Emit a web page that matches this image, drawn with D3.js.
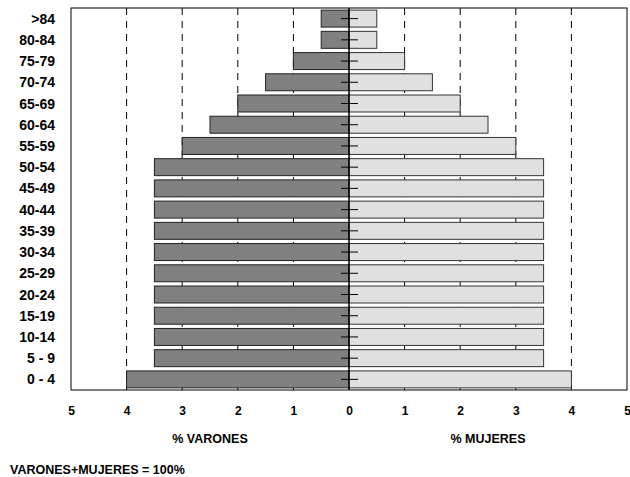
<!DOCTYPE html>
<html>
<head>
<meta charset="utf-8">
<script src="https://cdn.jsdelivr.net/npm/d3@7"></script>
<style>
  body { margin: 0; background: #fff; }
  text { font-family: "Liberation Sans", Arial, sans-serif; font-weight: bold; fill: #000; }
</style>
</head>
<body>
<div id="chart"></div>
<script>
var ageGroups = [">84", "80-84", "75-79", "70-74", "65-69", "60-64", "55-59", "50-54", "45-49",
  "40-44", "35-39", "30-34", "25-29", "20-24", "15-19", "10-14", "5 - 9", "0 - 4"]
var varones = [0.5, 0.5, 1, 1.5, 2, 2.5, 3, 3.5, 3.5, 3.5, 3.5, 3.5, 3.5, 3.5, 3.5, 3.5, 3.5, 4]
var mujeres = [0.5, 0.5, 1, 1.5, 2, 2.5, 3, 3.5, 3.5, 3.5, 3.5, 3.5, 3.5, 3.5, 3.5, 3.5, 3.5, 4]
var xTicks = [-5, -4, -3, -2, -1, 0, 1, 2, 3, 4, 5]

var width = 630, height = 477
var margin = { top: 8, right: 3, bottom: 87, left: 71 }
var innerW = width - margin.left - margin.right,
  innerH = height - margin.top - margin.bottom

var svg = d3.select("#chart").append("svg")
  .attr("width", width)
  .attr("height", height)

var g = svg.append("g")
  .attr("transform", "translate(" + margin.left + "," + margin.top + ")")

var x = d3.scaleLinear().domain([-5, 5]).range([0, innerW])
var y = d3.scaleBand().domain(ageGroups).range([0, innerH]).paddingInner(0.2).paddingOuter(0.1)

// dashed gridlines
g.append("g").selectAll("line")
  .data(xTicks.filter(function (d) { return d !== 0 && Math.abs(d) !== 5 }))
  .enter().append("line")
  .attr("x1", function (d) { return x(d) })
  .attr("x2", function (d) { return x(d) })
  .attr("y1", 0)
  .attr("y2", innerH)
  .style("stroke", "#000")
  .style("stroke-width", 1)
  .style("stroke-dasharray", "7,6")

var data = ageGroups.map(function (a, i) { return { age: a, v: varones[i], m: mujeres[i] } })

// men
g.append("g").selectAll("rect").data(data).enter().append("rect")
  .attr("x", function (d) { return x(-d.v) })
  .attr("y", function (d) { return y(d.age) })
  .attr("width", function (d) { return x(0) - x(-d.v) })
  .attr("height", y.bandwidth())
  .style("fill", "#808080")
  .style("stroke", "#222")
  .style("stroke-width", 1)

// women
g.append("g").selectAll("rect").data(data).enter().append("rect")
  .attr("x", x(0))
  .attr("y", function (d) { return y(d.age) })
  .attr("width", function (d) { return x(d.m) - x(0) })
  .attr("height", y.bandwidth())
  .style("fill", "#e0e0e0")
  .style("stroke", "#333")
  .style("stroke-width", 1)

// frame
g.append("rect")
  .attr("width", innerW)
  .attr("height", innerH)
  .style("fill", "none")
  .style("stroke", "#000")
  .style("stroke-width", 1)

// center axis
var center = g.append("g")
  .attr("transform", "translate(" + x(0) + ",0)")
center.append("line")
  .attr("y1", 0).attr("y2", innerH)
  .style("stroke", "#000")
  .style("stroke-width", 1.5)
center.selectAll(".ctick").data(ageGroups).enter().append("line")
  .attr("x1", -8).attr("x2", 9)
  .attr("y1", function (d) { return y(d) + y.bandwidth() / 2 })
  .attr("y2", function (d) { return y(d) + y.bandwidth() / 2 })
  .style("stroke", "#000")
  .style("stroke-width", 1)

// category labels
g.append("g").selectAll("text").data(ageGroups).enter().append("text")
  .attr("x", -16)
  .attr("y", function (d) { return y(d) + y.bandwidth() / 2 })
  .attr("dy", "0.36em")
  .attr("text-anchor", "end")
  .style("font-size", "14px")
  .text(function (d) { return d })

// x axis
var xAxis = d3.axisBottom(x).tickValues(xTicks).tickSize(0).tickPadding(16)
  .tickFormat(function (d) { return Math.abs(d) })
g.append("g")
  .attr("transform", "translate(0," + innerH + ")")
  .call(xAxis)
  .call(function (a) {
    a.select(".domain").remove()
    a.selectAll(".tick text").style("font-size", "12px").style("font-family", "Liberation Sans, Arial, sans-serif").style("font-weight", "bold")
  })

svg.append("text")
  .attr("x", margin.left + x(-2.5))
  .attr("y", 443)
  .attr("text-anchor", "middle")
  .style("font-size", "12.5px")
  .text("% VARONES")

svg.append("text")
  .attr("x", margin.left + x(2.5))
  .attr("y", 443)
  .attr("text-anchor", "middle")
  .style("font-size", "12.5px")
  .text("% MUJERES")

svg.append("text")
  .attr("x", 10)
  .attr("y", 474)
  .style("font-size", "12.5px")
  .text("VARONES+MUJERES = 100%")
</script>
</body>
</html>
